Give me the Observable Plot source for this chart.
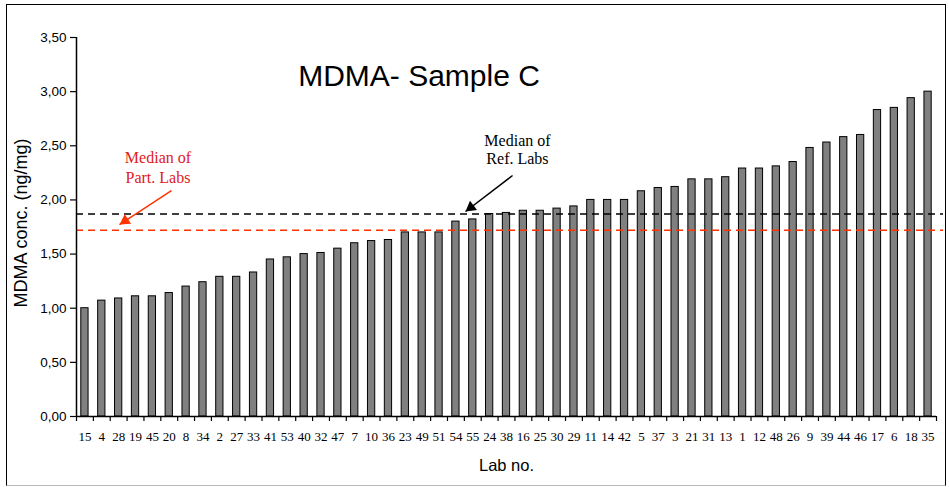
<!DOCTYPE html>
<html>
<head>
<meta charset="utf-8">
<script src="https://cdn.jsdelivr.net/npm/d3@7"></script>
<script src="https://cdn.jsdelivr.net/npm/@observablehq/plot@0.6"></script>
<style>
  html, body { margin: 0; padding: 0; background: #fff; }
  #wrap { position: relative; width: 949px; height: 487px; }
  #border { position: absolute; left: 6px; top: 4px; width: 938px; height: 480px; border: 1.5px solid #000; border-bottom-color: #bbb; pointer-events: none; }
</style>
</head>
<body>
<div id="wrap"><div id="border"></div></div>
<script>
// ---- data ----
const labs = ["15","4","28","19","45","20","8","34","2","27","33","41","53","40","32","47","7","10","36","23","49","51","54","55","24","38","16","25","30","29","11","14","42","5","37","3","21","31","13","1","12","48","26","9","39","44","46","17","6","18","35"];
const values = [1.00,1.07,1.09,1.11,1.11,1.14,1.20,1.24,1.29,1.29,1.33,1.45,1.47,1.50,1.51,1.55,1.60,1.62,1.63,1.70,1.70,1.70,1.80,1.82,1.87,1.88,1.90,1.90,1.92,1.94,2.00,2.00,2.00,2.08,2.11,2.12,2.19,2.19,2.21,2.29,2.29,2.31,2.35,2.48,2.53,2.58,2.60,2.83,2.85,2.94,3.00];
const yTicks = [0, 0.5, 1, 1.5, 2, 2.5, 3, 3.5];
const refMedian = 1.87;   // Median of Ref. Labs
const partMedian = 1.72;  // Median of Part. Labs
// annotation anchors in data units (x = bar index position, y = concentration)
const refLabelX = 26.15, refLabelY = [2.549, 2.382], refLabelText = ["Median of", "Ref. Labs"];
const partLabelX = 4.83, partLabelY = [2.392, 2.207], partLabelText = ["Median of", "Part. Labs"];
const refArrow = {x1: 25.86, y1: 2.2255, x2: 23.07, y2: 1.893};
const partArrow = {x1: 5.63, y1: 2.087, x2: 2.55, y2: 1.773};

const W = 949, H = 487, ML = 76, MR = 13, MT = 37, MB = 71;
const N = labs.length;
const data = labs.map((lab, i) => ({lab, i, value: values[i]}));

const black = "#000", red = "#ff3300", redText = "#e0201c";
const sans = "Liberation Sans, Arial, sans-serif";
const serif = "Liberation Serif, Times New Roman, serif";

// pixel per unit (for arrow-head orientation only)
const kx = (W - ML - MR) / N, ky = (H - MT - MB) / (yTicks[yTicks.length - 1] - yTicks[0]);
function headMark(a, color) {
  const vx = (a.x2 - a.x1) * kx, vy = -(a.y2 - a.y1) * ky;
  const len = Math.hypot(vx, vy), ux = vx / len, uy = vy / len;
  const rot = Math.atan2(ux, -uy) * 180 / Math.PI;
  const r = 4.3;
  const back = 2 * Math.sqrt((Math.PI * r * r) / (3 * Math.sqrt(3)));
  return Plot.dot([a], {x: "x2", y: "y2", symbol: "triangle", r, rotate: rot, fill: color, stroke: "none", dx: -ux * back, dy: -uy * back});
}

const fmt = d => d.toFixed(2).replace(".", ",");

const plot = Plot.plot({
  width: W, height: H,
  marginLeft: ML, marginRight: MR, marginTop: MT, marginBottom: MB,
  style: {background: "transparent", overflow: "visible"},
  x: {domain: [0, N], axis: null},
  y: {domain: [0, 3.5], axis: null},
  marks: [
    // bars
    Plot.rectY(data, {x1: d => d.i, x2: d => d.i + 1, y: "value", insetLeft: 4.8, insetRight: 4.8, fill: "#808080", stroke: black, strokeWidth: 1}),
    // median lines
    Plot.ruleY([refMedian], {x1: 0, x2: N, insetRight: -7, stroke: black, strokeWidth: 1.5, strokeDasharray: "7,5"}),
    Plot.ruleY([partMedian], {x1: 0, x2: N, insetRight: -7, stroke: red, strokeWidth: 1.5, strokeDasharray: "7,5"}),
    // axes
    Plot.ruleX([0], {y1: 0, y2: 3.5, stroke: black, strokeWidth: 1.5}),
    Plot.ruleY([0], {x1: 0, x2: N, stroke: black, strokeWidth: 1.5}),
    Plot.axisY({ticks: yTicks, tickFormat: fmt, tickSize: 6, tickPadding: 4, fontSize: 13.5, fontFamily: sans, stroke: black, strokeWidth: 1.2, fill: black}),
    Plot.axisX({ticks: d3.range(0, N + 1), tickFormat: () => "", tickSize: 5, stroke: black, strokeWidth: 1.2}),
    Plot.text(data, {x: d => d.i + 0.5, y: 0, text: "lab", dy: 20.8, fontFamily: serif, fontSize: 13, fill: black, lineAnchor: "middle", textAnchor: "middle"}),
    // axis titles
    Plot.text(["Lab no."], {frameAnchor: "bottom", dy: 49, textAnchor: "middle", lineAnchor: "middle", fontFamily: sans, fontSize: 16.5, fill: black}),
    Plot.text(["MDMA conc. (ng/mg)"], {frameAnchor: "left", dx: -55, dy: -4, rotate: -90, textAnchor: "middle", lineAnchor: "middle", fontFamily: sans, fontSize: 18, fill: black}),
    // title
    Plot.text(["MDMA- Sample C"], {frameAnchor: "top", dx: -87.5, dy: 38.4, textAnchor: "middle", lineAnchor: "middle", fontFamily: sans, fontSize: 30, fill: black}),
    // annotations
    Plot.text(refLabelText, {x: () => refLabelX, y: (d, i) => refLabelY[i], text: d => d, fontFamily: serif, fontSize: 16, fill: black, textAnchor: "middle", lineAnchor: "middle"}),
    Plot.text(partLabelText, {x: () => partLabelX, y: (d, i) => partLabelY[i], text: d => d, fontFamily: serif, fontSize: 16, fill: redText, textAnchor: "middle", lineAnchor: "middle"}),
    Plot.link([refArrow], {x1: "x1", y1: "y1", x2: "x2", y2: "y2", stroke: black, strokeWidth: 1.5}),
    headMark(refArrow, black),
    Plot.link([partArrow], {x1: "x1", y1: "y1", x2: "x2", y2: "y2", stroke: red, strokeWidth: 1.5}),
    headMark(partArrow, red)
  ]
});
document.getElementById("wrap").prepend(plot);
</script>
</body>
</html>
